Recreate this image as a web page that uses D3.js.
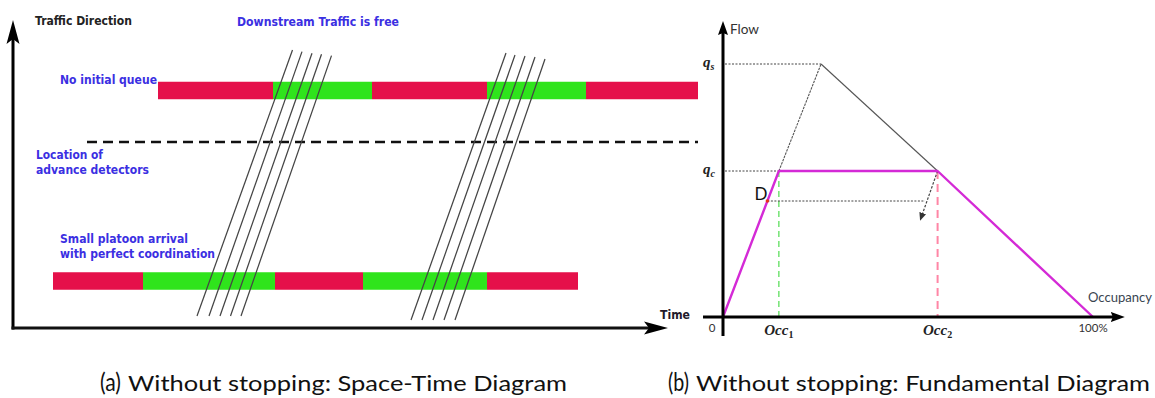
<!DOCTYPE html>
<html>
<head>
<meta charset="utf-8">
<script src="https://cdn.jsdelivr.net/npm/d3@7"></script>
<style>
  html, body { margin: 0; padding: 0; background: #fff; }
  svg { display: block; }
</style>
</head>
<body>
<div id="chart"></div>
<script>
// ---------- (a) Space-time diagram data ----------
// time in seconds, distance in metres along the corridor
const downstreamPhases = [
  { state: "red",   start: 29,    end: 52 },
  { state: "green", start: 52,    end: 71.8 },
  { state: "red",   start: 71.8,  end: 94.8 },
  { state: "green", start: 94.8,  end: 114.6 },
  { state: "red",   start: 114.6, end: 137 }
];
const upstreamPhases = [
  { state: "red",   start: 8,    end: 26 },
  { state: "green", start: 26,   end: 52.4 },
  { state: "red",   start: 52.4, end: 70 },
  { state: "green", start: 70,   end: 94.8 },
  { state: "red",   start: 94.8, end: 113 }
];
const downstreamStopLine = 118.75;
const upstreamStopLine = 23.5;
const detectorLocation = 93;
const detectorExtent = [14.8, 137];

// vehicle trajectories: (t0, s0) -> (t1, s1)
const platoonFirst = [
  { t0: 36.8, s0: 6, t1: 55.9, s1: 139 },
  { t0: 39.2, s0: 6, t1: 57.8, s1: 138.2 },
  { t0: 41.4, s0: 6, t1: 59.8, s1: 137.4 },
  { t0: 43.5, s0: 6, t1: 61.7, s1: 136.9 },
  { t0: 45.6, s0: 6, t1: 63.7, s1: 136.2 }
];
const platoonSecond = [
  { t0: 79.6, s0: 4, t1: 98.6,  s1: 137.5 },
  { t0: 81.8, s0: 4, t1: 100.4, s1: 136.5 },
  { t0: 84.0, s0: 4, t1: 102.4, s1: 136 },
  { t0: 86.2, s0: 4, t1: 104.4, s1: 135.5 },
  { t0: 88.4, s0: 4, t1: 106.4, s1: 134.5 }
];
const spaceTimeLabels = [
  "Traffic Direction", "Downstream Traffic is free", "No initial queue",
  "Location of", "advance detectors", "Small platoon arrival",
  "with perfect coordination", "Time"
];

// ---------- (b) Fundamental diagram data ----------
// occupancy in %, flow in veh/h
const occupancyPoints = [0, 15.1, 58, 100];
const flowPoints = [0, 1460, 1460, 0];
const occupancyUncapped = [15.1, 26.5, 58];
const flowUncapped = [1460, 2530, 1460];
const flowSaturation = 2530;
const flowCapacity = 1460;
const pointD = [12, 1160];
const shiftArrow = [[58, 1460], [53.8, 1020]];
const shiftLineEnd = 54.6;
const occTickValues = [0, 15.1, 58, 100];
const occTickLabels = ["0", "Occ1", "Occ2", "100%"];
const flowTickValues = [flowSaturation, flowCapacity];
const flowTickLabels = ["qs", "qc"];

const captions = ["(a)", "Without stopping: Space-Time Diagram", "(b)", "Without stopping: Fundamental Diagram"];

// ---------- drawing ----------
const W = 1155, H = 398;
const svg = d3.select("#chart").append("svg").attr("width", W).attr("height", H);
svg.append("rect").attr("width", W).attr("height", H).attr("fill", "#fff");

const defs = svg.append("defs");
defs.append("marker").attr("id", "bigArrow")
  .attr("markerUnits", "userSpaceOnUse").attr("orient", "auto")
  .attr("markerWidth", 30).attr("markerHeight", 20)
  .attr("viewBox", "0 -10 30 20").attr("refX", 16).attr("refY", 0)
  .append("path").attr("d", "M0,-6.5 L24,0 L0,6.5 L5,0 Z").attr("fill", "#000");
defs.append("marker").attr("id", "smallArrow")
  .attr("markerUnits", "userSpaceOnUse").attr("orient", "auto")
  .attr("markerWidth", 20).attr("markerHeight", 14)
  .attr("viewBox", "0 -7 20 14").attr("refX", 8).attr("refY", 0)
  .append("path").attr("d", "M0,-5 L14,0 L0,5 L2,0 Z").attr("fill", "#000");
defs.append("marker").attr("id", "tinyArrow")
  .attr("markerUnits", "userSpaceOnUse").attr("orient", "auto")
  .attr("markerWidth", 10).attr("markerHeight", 10)
  .attr("viewBox", "0 -5 10 10").attr("refX", 2).attr("refY", 0)
  .append("path").attr("d", "M0,-3.5 L8,0 L0,3.5 Z").attr("fill", "#333");

// ===== Panel (a) =====
const t = d3.scaleLinear().domain([0, 131]).range([13, 668]);
const s = d3.scaleLinear().domain([0, 154]).range([328, 20]);
const pa = svg.append("g");
const phaseColor = { red: "#e5104a", green: "#2fe41c" };
const barThickness = 17.5;

function drawPhases(phases, loc) {
  pa.append("g").selectAll("rect").data(phases).join("rect")
    .attr("x", d => t(d.start))
    .attr("width", d => t(d.end) - t(d.start))
    .attr("y", s(loc) - barThickness / 2)
    .attr("height", barThickness)
    .attr("fill", d => phaseColor[d.state]);
}
drawPhases(downstreamPhases, downstreamStopLine);
drawPhases(upstreamPhases, upstreamStopLine);

// advance detector location
pa.append("line")
  .attr("x1", t(detectorExtent[0])).attr("x2", t(detectorExtent[1]))
  .attr("y1", s(detectorLocation)).attr("y2", s(detectorLocation))
  .attr("stroke", "#111").attr("stroke-width", 2.6).attr("stroke-dasharray", "10,6");

// trajectories
pa.append("g").selectAll("line").data(platoonFirst.concat(platoonSecond)).join("line")
  .attr("x1", d => t(d.t0)).attr("y1", d => s(d.s0))
  .attr("x2", d => t(d.t1)).attr("y2", d => s(d.s1))
  .attr("stroke", "#444").attr("stroke-width", 1.25);

// axes
pa.append("line")
  .attr("x1", t(0)).attr("x2", t(0))
  .attr("y1", s(0) + 1.5).attr("y2", s(154) + 8)
  .attr("stroke", "#000").attr("stroke-width", 3)
  .attr("marker-end", "url(#bigArrow)");
pa.append("line")
  .attr("x1", t(0) - 1.5).attr("x2", t(131) - 8)
  .attr("y1", s(0)).attr("y2", s(0))
  .attr("stroke", "#111").attr("stroke-width", 3)
  .attr("marker-end", "url(#bigArrow)");

// annotations
const stLayout = [
  { x: 35,  y: 24.5, w: 97,  color: "#222",    size: 12.5 },
  { x: 237, y: 25.5, w: 162, color: "#3b2fe2", size: 12.5 },
  { x: 60,  y: 83.5, w: 97,  color: "#3b2fe2", size: 12.5 },
  { x: 36,  y: 158.5, w: 67, color: "#3b2fe2", size: 12.5 },
  { x: 36,  y: 173.5, w: 113, color: "#3b2fe2", size: 12.5 },
  { x: 60,  y: 242.5, w: 128, color: "#3b2fe2", size: 12.5 },
  { x: 60,  y: 257.5, w: 155, color: "#3b2fe2", size: 12.5 },
  { x: 660, y: 318.5, w: 30,  color: "#221a2a", size: 12.5 }
];
pa.append("g").selectAll("text").data(spaceTimeLabels).join("text")
  .attr("x", (d, i) => stLayout[i].x)
  .attr("y", (d, i) => stLayout[i].y)
  .attr("textLength", (d, i) => stLayout[i].w)
  .attr("lengthAdjust", "spacingAndGlyphs")
  .attr("fill", (d, i) => stLayout[i].color)
  .attr("font-family", "DejaVu Sans")
  .attr("font-weight", "bold")
  .attr("font-size", (d, i) => stLayout[i].size)
  .text(d => d);

// ===== Panel (b) =====
const occ = d3.scaleLinear().domain([0, 100]).range([723, 1093]);
const flow = d3.scaleLinear().domain([0, 3000]).range([317, 17]);
const pb = svg.append("g");

// reference lines to the flow axis
pb.append("line")
  .attr("x1", occ(0) + 2).attr("x2", occ(occupancyUncapped[1]))
  .attr("y1", flow(flowSaturation)).attr("y2", flow(flowSaturation))
  .attr("stroke", "#444").attr("stroke-width", 1).attr("stroke-dasharray", "2,1.5");
pb.append("line")
  .attr("x1", occ(0) + 2).attr("x2", occ(occupancyPoints[1]))
  .attr("y1", flow(flowCapacity)).attr("y2", flow(flowCapacity))
  .attr("stroke", "#444").attr("stroke-width", 1).attr("stroke-dasharray", "2,1.5");

// uncapped (saturation) triangle
const uncapped = occupancyUncapped.map((o, i) => [occ(o), flow(flowUncapped[i])]);
pb.append("line")
  .attr("x1", uncapped[0][0]).attr("y1", uncapped[0][1])
  .attr("x2", uncapped[1][0]).attr("y2", uncapped[1][1])
  .attr("stroke", "#555").attr("stroke-width", 1.1).attr("stroke-dasharray", "2.5,1");
pb.append("line")
  .attr("x1", uncapped[1][0]).attr("y1", uncapped[1][1])
  .attr("x2", uncapped[2][0]).attr("y2", uncapped[2][1])
  .attr("stroke", "#555").attr("stroke-width", 1.1);

// critical occupancy markers
pb.append("line")
  .attr("x1", occ(occupancyPoints[1])).attr("x2", occ(occupancyPoints[1]))
  .attr("y1", flow(flowCapacity)).attr("y2", flow(0))
  .attr("stroke", "#4fdc4f").attr("stroke-width", 1.2).attr("stroke-dasharray", "6,4");
pb.append("line")
  .attr("x1", occ(occupancyPoints[2])).attr("x2", occ(occupancyPoints[2]))
  .attr("y1", flow(flowCapacity)).attr("y2", flow(0))
  .attr("stroke", "#ff86a6").attr("stroke-width", 2).attr("stroke-dasharray", "8,5");

// shift from D toward congested branch
pb.append("line")
  .attr("x1", occ(pointD[0])).attr("x2", occ(shiftLineEnd))
  .attr("y1", flow(pointD[1])).attr("y2", flow(pointD[1]))
  .attr("stroke", "#444").attr("stroke-width", 1).attr("stroke-dasharray", "2,1.5");
pb.append("line")
  .attr("x1", occ(shiftArrow[0][0])).attr("y1", flow(shiftArrow[0][1]))
  .attr("x2", occ(shiftArrow[1][0])).attr("y2", flow(shiftArrow[1][1]))
  .attr("stroke", "#444").attr("stroke-width", 1.2).attr("stroke-dasharray", "2.5,1.5")
  .attr("marker-end", "url(#tinyArrow)");

// observed trapezoid
pb.append("path")
  .datum(occupancyPoints.map((o, i) => [o, flowPoints[i]]))
  .attr("d", d3.line().x(d => occ(d[0])).y(d => flow(d[1])))
  .attr("fill", "none").attr("stroke", "#d42ad6").attr("stroke-width", 2.4)
  .attr("stroke-linejoin", "round");

// point D
pb.append("circle")
  .attr("cx", occ(pointD[0])).attr("cy", flow(pointD[1])).attr("r", 1.8)
  .attr("fill", "#e8321e");
pb.append("text")
  .attr("x", occ(pointD[0]) - 13).attr("y", flow(pointD[1]) - 1)
  .attr("font-family", "Lato").attr("font-size", 17).attr("fill", "#111")
  .text("D");

// axes
pb.append("line")
  .attr("x1", occ(0)).attr("x2", occ(0))
  .attr("y1", flow(-190)).attr("y2", flow(2960) + 6)
  .attr("stroke", "#000").attr("stroke-width", 3)
  .attr("marker-end", "url(#smallArrow)");
pb.append("line")
  .attr("x1", occ(-5.4)).attr("x2", occ(108.6) - 6)
  .attr("y1", flow(0)).attr("y2", flow(0))
  .attr("stroke", "#000").attr("stroke-width", 2.8)
  .attr("marker-end", "url(#smallArrow)");

pb.append("text").attr("x", occ(0) + 7).attr("y", 34)
  .attr("font-family", "Lato").attr("font-size", 13).attr("fill", "#333")
  .attr("textLength", 29).attr("lengthAdjust", "spacingAndGlyphs")
  .text("Flow");
pb.append("text").attr("x", 1088).attr("y", 302)
  .attr("font-family", "Lato").attr("font-size", 12.5).attr("fill", "#3a4550")
  .attr("textLength", 64).attr("lengthAdjust", "spacingAndGlyphs")
  .text("Occupancy");

// flow tick labels (q with subscript)
const fTicks = pb.append("g").selectAll("text").data(flowTickLabels).join("text")
  .attr("x", 703).attr("y", (d, i) => flow(flowTickValues[i]) + 3)
  .attr("font-family", "Liberation Serif").attr("font-style", "italic")
  .attr("font-weight", "bold").attr("font-size", 15).attr("fill", "#222");
fTicks.append("tspan").text(d => d[0]);
fTicks.append("tspan").attr("font-size", 10).attr("dy", 3).text(d => d.slice(1));

// occupancy tick labels
const oTicks = pb.append("g").selectAll("text").data(occTickLabels).join("text")
  .attr("x", (d, i) => occ(occTickValues[i]) + (i === 0 ? -11 : 0))
  .attr("y", (d, i) => i === 1 || i === 2 ? 335 : 332)
  .attr("text-anchor", "middle")
  .attr("fill", "#333");
oTicks.each(function (d, i) {
  const el = d3.select(this);
  if (i === 1 || i === 2) {
    el.attr("font-family", "Liberation Serif").attr("font-weight", "bold")
      .attr("font-size", 15).attr("fill", "#222");
    el.append("tspan").attr("font-style", "italic").text(d.slice(0, 3));
    el.append("tspan").attr("font-size", 10).attr("dy", 3).text(d.slice(3));
  } else {
    el.attr("font-family", "Lato").attr("font-size", 11.5).text(d);
  }
});

// ===== captions =====
const cap = svg.append("g").attr("font-family", "Lato").attr("fill", "#111");
cap.append("text").attr("x", 100).attr("y", 391).attr("font-size", 25)
  .attr("textLength", 21).attr("lengthAdjust", "spacingAndGlyphs").text(captions[0]);
cap.append("text").attr("x", 128).attr("y", 391).attr("font-size", 22)
  .attr("textLength", 439).attr("lengthAdjust", "spacingAndGlyphs").text(captions[1]);
cap.append("text").attr("x", 668).attr("y", 391).attr("font-size", 25)
  .attr("textLength", 21).attr("lengthAdjust", "spacingAndGlyphs").text(captions[2]);
cap.append("text").attr("x", 696).attr("y", 391).attr("font-size", 22)
  .attr("textLength", 454).attr("lengthAdjust", "spacingAndGlyphs").text(captions[3]);
</script>
</body>
</html>
